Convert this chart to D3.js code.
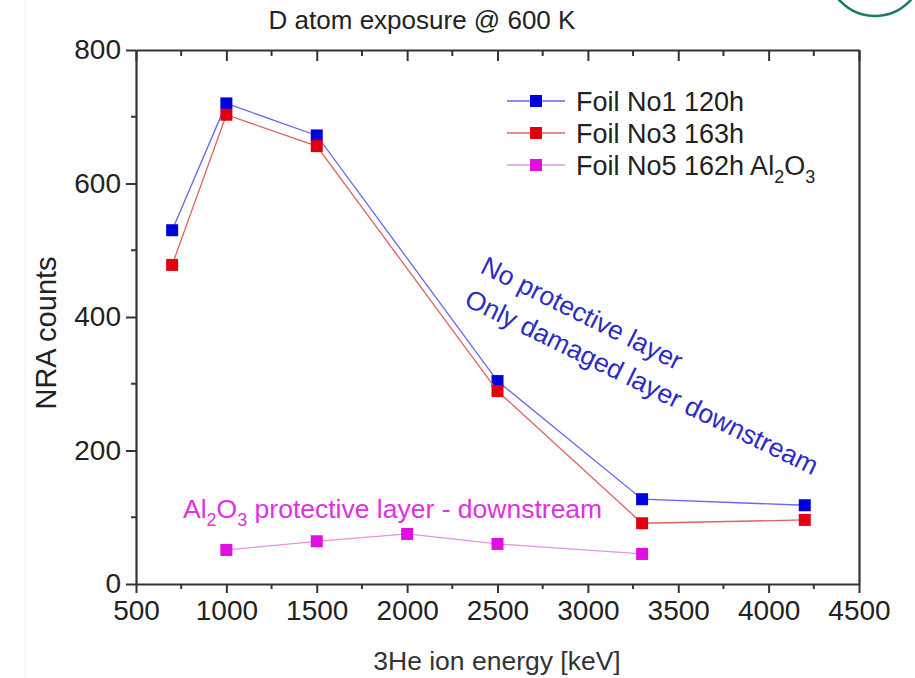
<!DOCTYPE html>
<html>
<head>
<meta charset="utf-8">
<script src="https://cdn.jsdelivr.net/npm/d3@7"></script>
<style>
  body { margin: 0; background: #fff; }
  svg { font-family: "Liberation Sans", Arial, sans-serif; }
</style>
</head>
<body>
<div id="chart"></div>
<script>
// data
const energies1 = [700, 1000, 1500, 2500, 3300, 4200];
const foil1 = [530, 720, 672, 304, 127, 118];
const foil3 = [478, 703, 656, 289, 91, 96];
const energies5 = [1000, 1500, 2000, 2500, 3300];
const foil5 = [51, 64, 75, 60, 45];
const xTicks = [500, 1000, 1500, 2000, 2500, 3000, 3500, 4000, 4500];
const yTicks = [0, 200, 400, 600, 800];

const series = [
    { name: "Foil No1 120h", color: "#0000dd", line: "#6666ee", x: energies1, y: foil1 },
    { name: "Foil No3 163h", color: "#e00010", line: "#e06060", x: energies1, y: foil3 },
    { name: "Foil No5 162h", sub: true, color: "#e010e0", line: "#e890e8", x: energies5, y: foil5 }
];

const W = 915, H = 678;
const margin = { top: 50, left: 136, right: 56, bottom: 94 };
const width = W - margin.left - margin.right;
const height = H - margin.top - margin.bottom;

const root = d3.select("#chart").append("svg")
    .attr("width", W).attr("height", H);

// partial logo in top right corner
root.append("ellipse")
    .attr("cx", 875).attr("cy", -32).attr("rx", 48).attr("ry", 48)
    .attr("fill", "none").attr("stroke", "#1a7a6a").attr("stroke-width", 2.5);
root.append("line").attr("x1", 25).attr("x2", 25).attr("y1", 0).attr("y2", H)
    .attr("stroke", "#f0f0f0");

const svg = root.append("g").attr("transform", `translate(${margin.left},${margin.top})`);

const x = d3.scaleLinear().domain([500, 4500]).range([0, width]);
const y = d3.scaleLinear().domain([0, 800]).range([height, 0]);

const axisColor = "#333";

// bottom axis, major + minor ticks outward
const xAxis = d3.axisBottom(x).tickValues(xTicks).tickSize(9).tickSizeOuter(0)
    .tickPadding(7).tickFormat(d3.format("d"));
const gx = svg.append("g").attr("transform", `translate(0,${height})`).call(xAxis);
gx.append("g").selectAll("line").data(d3.range(750, 4500, 500)).join("line")
    .attr("x1", d => x(d)).attr("x2", d => x(d)).attr("y1", 0).attr("y2", 5);

// top axis, ticks inward
const gxt = svg.append("g").call(d3.axisTop(x).tickValues(xTicks).tickSize(-11).tickSizeOuter(0).tickFormat(""));
gxt.append("g").selectAll("line").data(d3.range(750, 4500, 500)).join("line")
    .attr("x1", d => x(d)).attr("x2", d => x(d)).attr("y1", 0).attr("y2", 6);

// left axis
const yAxis = d3.axisLeft(y).tickValues(yTicks).tickSize(10).tickSizeOuter(0).tickPadding(5);
const gy = svg.append("g").call(yAxis);
gy.append("g").selectAll("line").data(d3.range(100, 800, 200)).join("line")
    .attr("x1", 0).attr("x2", -5).attr("y1", d => y(d)).attr("y2", d => y(d));

// right axis
svg.append("g").attr("transform", `translate(${width},0)`)
    .call(d3.axisRight(y).tickValues([]).tickSizeOuter(0));

svg.selectAll(".domain").attr("stroke", axisColor).attr("stroke-width", 2.2);
svg.selectAll(".tick line").attr("stroke", axisColor).attr("stroke-width", 2);
svg.selectAll("g > g > line").attr("stroke", axisColor).attr("stroke-width", 2);
svg.selectAll(".tick text").attr("fill", "#222").style("font-size", "28px");
gx.selectAll(".tick text").attr("dy", "0.71em");

// lines + markers
const line = d3.line().x(d => x(d[0])).y(d => y(d[1]));
series.forEach(s => {
    const pts = s.x.map((v, i) => [v, s.y[i]]);
    svg.append("path").datum(pts)
        .attr("d", line)
        .attr("fill", "none").attr("stroke", s.line).attr("stroke-width", 1.3);
    svg.append("g").selectAll("rect").data(pts).join("rect")
        .attr("x", d => x(d[0]) - 6).attr("y", d => y(d[1]) - 6)
        .attr("width", 12).attr("height", 12)
        .attr("fill", s.color);
});

// legend
const legend = root.append("g").attr("transform", "translate(507,101)");
series.forEach((s, i) => {
    const g = legend.append("g").attr("transform", `translate(0,${i * 32})`);
    g.append("line").attr("x1", 0).attr("x2", 58).attr("y1", 0).attr("y2", 0)
        .attr("stroke", s.line).attr("stroke-width", 1.3);
    g.append("rect").attr("x", 23).attr("y", -6).attr("width", 12).attr("height", 12)
        .attr("fill", s.color);
    const t = g.append("text").attr("x", 69).attr("y", 9.5)
        .style("font-size", "27px").attr("fill", "#222").text(s.name);
    if (s.sub) {
        t.append("tspan").text(" Al");
        t.append("tspan").attr("dy", 8).style("font-size", "18px").text("2");
        t.append("tspan").attr("dy", -8).text("O");
        t.append("tspan").attr("dy", 8).style("font-size", "18px").text("3");
    }
});

// title and axis labels
root.append("text").attr("x", 422).attr("y", 29).attr("text-anchor", "middle")
    .style("font-size", "26px").attr("fill", "#222").text("D atom exposure @ 600 K");
root.append("text").attr("x", 497).attr("y", 670).attr("text-anchor", "middle")
    .style("font-size", "26.5px").attr("fill", "#333").text("3He ion energy [keV]");
root.append("text").attr("transform", "translate(56,333) rotate(-90)").attr("text-anchor", "middle")
    .style("font-size", "29px").attr("fill", "#222").text("NRA counts");

// annotations
const blue = "#2b2bc8";
root.append("text").attr("transform", "translate(479,272) rotate(26.5)")
    .style("font-size", "26.5px").attr("fill", blue).text("No protective layer");
root.append("text").attr("transform", "translate(463,305) rotate(26)")
    .style("font-size", "26.5px").attr("fill", blue).text("Only damaged layer downstream");

const mag = root.append("text").attr("x", 183).attr("y", 518)
    .style("font-size", "26.5px").attr("fill", "#e030e0");
mag.append("tspan").text("Al");
mag.append("tspan").attr("dy", 8).style("font-size", "18px").text("2");
mag.append("tspan").attr("dy", -8).text("O");
mag.append("tspan").attr("dy", 8).style("font-size", "18px").text("3");
mag.append("tspan").attr("dy", -8).text(" protective layer - downstream");
</script>
</body>
</html>
